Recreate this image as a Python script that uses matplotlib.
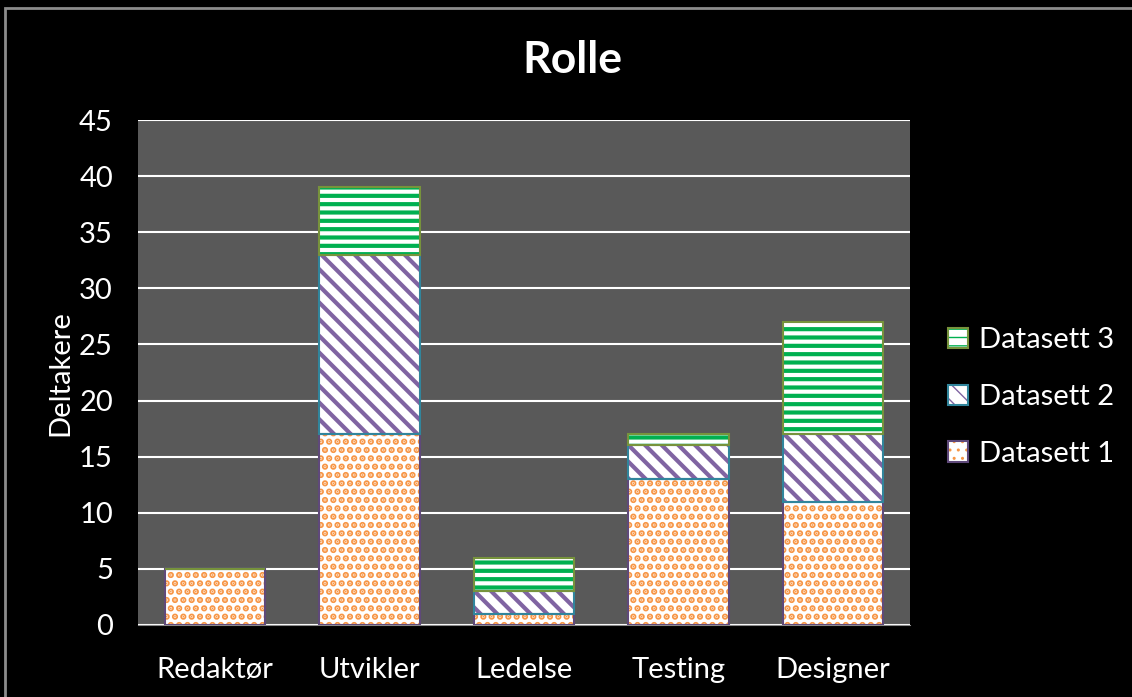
import matplotlib.pyplot as plt
import numpy as np
from matplotlib.patches import Rectangle, Patch

roles = ["Redaktør", "Utvikler", "Ledelse", "Testing", "Designer"]
datasett_1 = [5, 17, 1, 13, 11]
datasett_2 = [0, 16, 2, 3, 6]
datasett_3 = [0, 6, 3, 1, 10]
series_names = ["Datasett 1", "Datasett 2", "Datasett 3"]

# fill pattern colour, outline colour and hatch for each series
hatch_colors = ["#F79646", "#8064A2", "#00B050"]
edge_colors = ["#5F497A", "#31859C", "#77933C"]
hatches = ["..", "\\\\", "--"]
hatch_widths = [3.2, 3.0, 3.0]

plt.rcParams["font.family"] = ["Lato", "DejaVu Sans"]

fig = plt.figure(figsize=(11.32, 6.97), dpi=100, facecolor="black")
ax = fig.add_axes([0.1219, 0.1033, 0.6821, 0.7245])
ax.set_facecolor("#595959")

x = np.arange(len(roles))
width = 0.65
bottom = np.zeros(len(roles))
for vals, hc, ec, h, hw in zip([datasett_1, datasett_2, datasett_3], hatch_colors,
                               edge_colors, hatches, hatch_widths):
    vals = np.array(vals, dtype=float)
    # white base with coloured hatch, then the outline on top
    with plt.rc_context({"hatch.linewidth": hw}):
        ax.bar(x, vals, width, bottom=bottom, color="white", edgecolor=hc, hatch=h,
               linewidth=0, zorder=3)
    ax.bar(x, vals, width, bottom=bottom, fill=False, edgecolor=ec,
           linewidth=1.5, zorder=4)
    bottom += vals

ax.set_ylim(0, 45)
ax.set_yticks(range(0, 46, 5))
ax.set_xlim(-0.5, len(roles) - 0.5)
ax.set_xticks(x)
ax.set_xticklabels(roles)
ax.yaxis.grid(True, color="white", linewidth=1.5, zorder=1)
ax.set_axisbelow(True)
ax.tick_params(length=0, colors="white", labelsize=21)
ax.tick_params(axis="x", pad=23)
ax.tick_params(axis="y", pad=18)
for s in ["top", "right", "left"]:
    ax.spines[s].set_visible(False)
ax.spines["bottom"].set_color("#8c8c8c")

fig.text(60 / 1132, 1 - 373 / 697, "Deltakere", color="white", fontsize=21,
         rotation=90, ha="center", va="center")
fig.text(0.506, 0.914, "Rolle", color="white", fontsize=32, fontweight="bold",
         ha="center", va="center")

leg_handles = []
for i in [2, 1, 0]:
    with plt.rc_context({"hatch.linewidth": hatch_widths[i]}):
        fill = Patch(facecolor="white", edgecolor=hatch_colors[i], hatch=hatches[i], linewidth=0)
    leg_handles.append((fill, Patch(fill=False, edgecolor=edge_colors[i], linewidth=1.5)))
leg = fig.legend(leg_handles, [series_names[i] for i in [2, 1, 0]],
                 loc="center left", bbox_to_anchor=(0.8245, 1 - 397 / 697),
                 frameon=False, fontsize=21, labelcolor="white",
                 handlelength=0.7, handleheight=0.7, handletextpad=0.35,
                 labelspacing=1.05, borderpad=0)

# outer border of the chart area
fig.patches.append(Rectangle((5 / 1132, -0.1), 1.2, 1 - 8 / 697 + 0.1,
                             transform=fig.transFigure, fill=False,
                             edgecolor="#8c8c8c", linewidth=2))

fig.savefig("out.png", dpi=100, facecolor="black")
